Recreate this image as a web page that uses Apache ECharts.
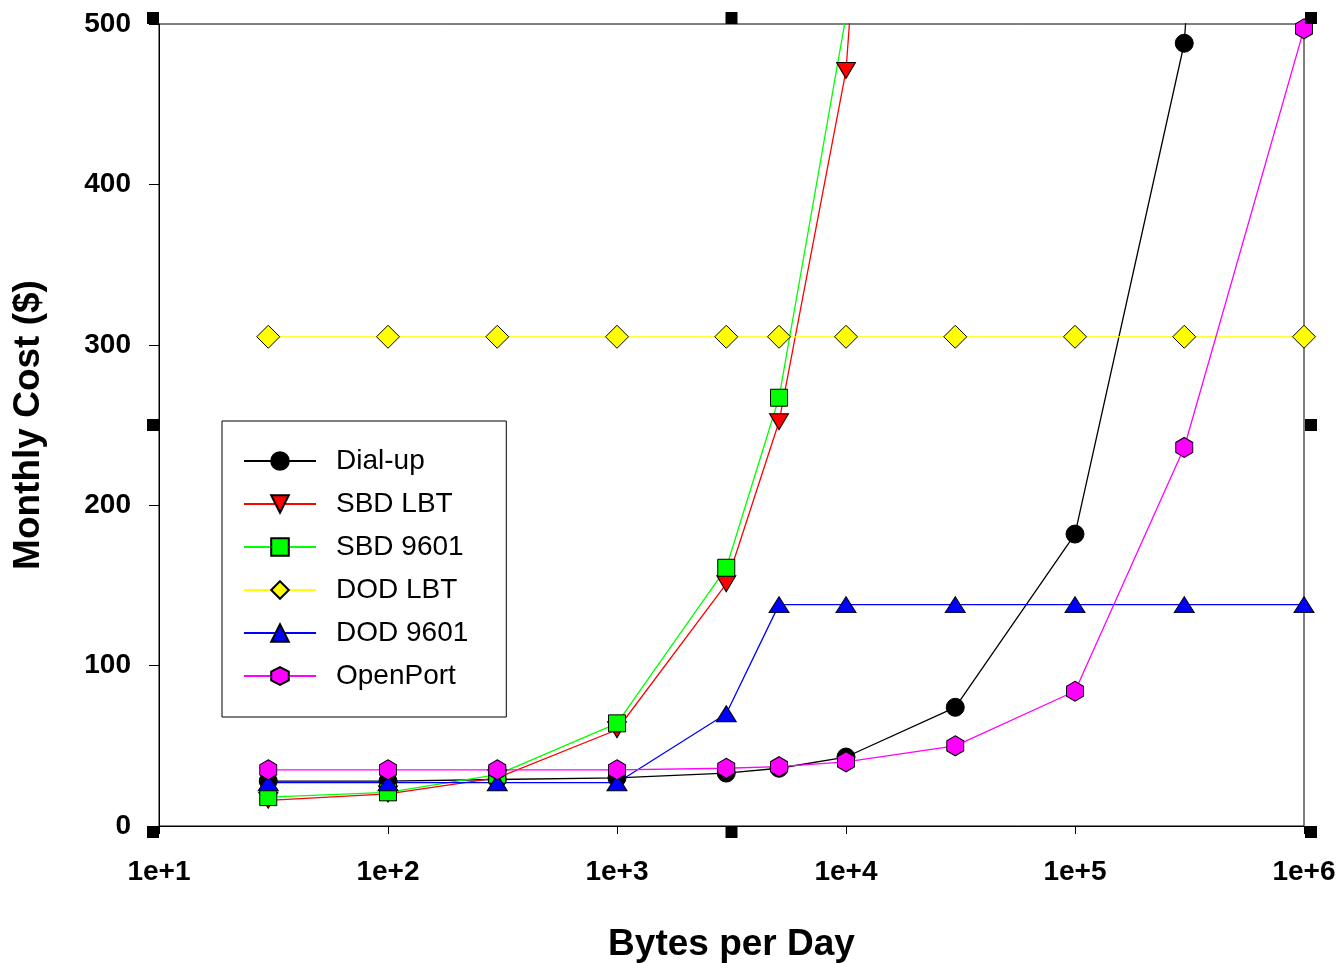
<!DOCTYPE html>
<html>
<head>
<meta charset="utf-8">
<script src="https://cdn.jsdelivr.net/npm/echarts@6/dist/echarts.min.js"></script>
<style>
  html, body { margin: 0; padding: 0; background: #fff; }
  #chart { width: 1343px; height: 963px; }
</style>
</head>
<body>
<div id="chart"></div>
<script>
// bytes per day (x positions of every point)
const bytes = [30, 100, 300, 1000, 3000, 5100, 10000, 30000, 100000, 300000, 1000000];
// monthly cost ($) per service, values above 500 run off the top of the plot
const dialup = [28, 28, 29, 30, 33, 36, 43, 74, 182, 488, 1600];
const sbdLbt = [16, 20, 30, 60, 151, 252, 471, 1400, null, null, null];
const sbd9601 = [18, 21, 32, 64, 161, 267, 505, 1500, null, null, null];
const dodLbt = [305, 305, 305, 305, 305, 305, 305, 305, 305, 305, 305];
const dod9601 = [27, 27, 27, 27, 70, 138, 138, 138, 138, 138, 138];
const openPort = [35, 35, 35, 35, 36, 37, 40, 50, 84, 236, 497];
const names = ["Dial-up", "SBD LBT", "SBD 9601", "DOD LBT", "DOD 9601", "OpenPort"];

const hexagon = "path://M0,-10L8.66,-5L8.66,5L0,10L-8.66,5L-8.66,-5Z";
const font = "Liberation Sans, Arial, sans-serif";

// grid box in pixels
const gLeft = 159, gTop = 24, gRight = 1304, gBottom = 826;

function pairs(ys) {
  return bytes.map((x, i) => [x, ys[i]]);
}

function makeSeries(name, ys, color, symbol, size, rotate) {
  return {
    name: name,
    type: "line",
    data: pairs(ys),
    symbol: symbol,
    symbolSize: size,
    symbolRotate: rotate || 0,
    showAllSymbol: true,
    clip: true,
    connectNulls: false,
    animation: false,
    lineStyle: { color: color, width: 1.3 },
    itemStyle: { color: color, borderColor: "#000", borderWidth: 1, opacity: 1 },
    emphasis: { disabled: true },
  };
}

// little black handles drawn around the frame
const handles = [];
[[gLeft - 12, gTop - 12], [(gLeft + gRight) / 2 - 6, gTop - 12], [gRight + 1, gTop - 12],
 [gLeft - 12, (gTop + gBottom) / 2 - 6], [gRight + 1, (gTop + gBottom) / 2 - 6],
 [gLeft - 12, gBottom], [(gLeft + gRight) / 2 - 6, gBottom], [gRight + 1, gBottom]].forEach((p) => {
  handles.push({
    type: "rect",
    shape: { x: p[0], y: p[1], width: 12, height: 12 },
    style: { fill: "#000" },
    z: 100,
  });
});

const chart = echarts.init(document.getElementById("chart"));
chart.setOption({
  backgroundColor: "#fff",
  animation: false,
  grid: {
    left: gLeft,
    top: gTop,
    right: 1343 - gRight,
    bottom: 963 - gBottom,
    outerBoundsMode: "none",
    containLabel: false,
    show: true,
    borderColor: "#000",
    borderWidth: 1,
    backgroundColor: "transparent",
  },
  legend: {
    orient: "vertical",
    left: 222,
    top: 421,
    data: names,
    padding: [26, 38, 27, 21],
    itemWidth: 72,
    itemHeight: 22,
    itemGap: 15,
    borderColor: "#000",
    borderWidth: 1,
    selectedMode: false,
    textStyle: {
      fontFamily: font,
      fontSize: 28,
      lineHeight: 28,
      color: "#000",
      padding: [0, 0, 0, 15],
    },
  },
  xAxis: {
    type: "log",
    logBase: 10,
    min: 10,
    max: 1000000,
    name: "Bytes per Day",
    nameLocation: "middle",
    nameGap: 100,
    nameTextStyle: { fontFamily: font, fontSize: 37, fontWeight: "bold", color: "#000" },
    axisLine: { lineStyle: { color: "#000", width: 1 } },
    axisTick: { show: true, length: 8, lineStyle: { color: "#000" } },
    minorTick: { show: false },
    splitLine: { show: false },
    axisLabel: {
      margin: 32,
      fontFamily: font,
      fontSize: 28,
      fontWeight: "bold",
      color: "#000",
      formatter: (v) => "1e+" + Math.round(Math.log10(v)),
    },
  },
  yAxis: {
    type: "value",
    min: 0,
    max: 500,
    interval: 100,
    name: "Monthly Cost ($)",
    nameLocation: "middle",
    nameGap: 112,
    nameTextStyle: { fontFamily: font, fontSize: 37, fontWeight: "bold", color: "#000" },
    axisLine: { show: true, lineStyle: { color: "#000", width: 1 } },
    axisTick: { show: true, length: 10, lineStyle: { color: "#000" } },
    splitLine: { show: false },
    axisLabel: {
      margin: 28,
      fontFamily: font,
      fontSize: 28,
      fontWeight: "bold",
      color: "#000",
    },
  },
  graphic: handles,
  series: [
    makeSeries(names[0], dialup, "#000000", "circle", 18),
    makeSeries(names[1], sbdLbt, "#ff0000", "triangle", [19, 16], 180),
    makeSeries(names[2], sbd9601, "#00ff00", "rect", 17),
    makeSeries(names[3], dodLbt, "#ffff00", "diamond", 23),
    makeSeries(names[4], dod9601, "#0000ff", "triangle", [20, 16]),
    makeSeries(names[5], openPort, "#ff00ff", hexagon, [17, 20]),
  ],
});
</script>
</body>
</html>
